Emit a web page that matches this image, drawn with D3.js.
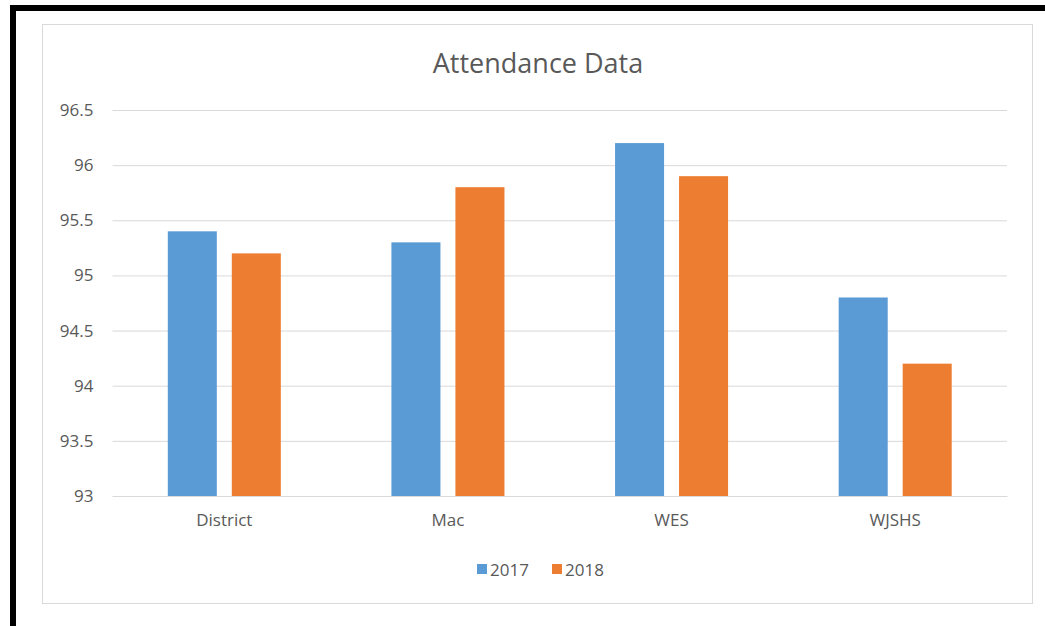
<!DOCTYPE html>
<html>
<head>
<meta charset="utf-8">
<script src="https://cdn.jsdelivr.net/npm/d3@7"></script>
<style>
  html, body { margin: 0; padding: 0; background: #fff; }
  svg { display: block; }
  text { font-family: "Open Sans", "Noto Sans", sans-serif; fill: #595959; }
</style>
</head>
<body>
<svg id="chart" width="1045" height="626"></svg>
<script>
// Attendance rates by school, two school years
const categories = ["District", "Mac", "WES", "WJSHS"];
const seriesNames = ["2017", "2018"];
const values2017 = [95.4, 95.3, 96.2, 94.8];
const values2018 = [95.2, 95.8, 95.9, 94.2];
const yTicks = [93, 93.5, 94, 94.5, 95, 95.5, 96, 96.5];
const yTickLabels = ["93", "93.5", "94", "94.5", "95", "95.5", "96", "96.5"];
const colors = ["#5B9BD5", "#ED7D31"];

const seriesValues = [values2017, values2018];

const svg = d3.select("#chart");
const W = 1045, H = 626;

// page frame: thick black edges on top and left
svg.append("rect").attr("x", 10).attr("y", 5).attr("width", W - 10).attr("height", 6).attr("fill", "#000");
svg.append("rect").attr("x", 10).attr("y", 5).attr("width", 6).attr("height", H - 5).attr("fill", "#000");

// chart area outline
svg.append("rect")
  .attr("x", 42.5).attr("y", 24.5)
  .attr("width", 990).attr("height", 579)
  .attr("fill", "#fff").attr("stroke", "#d9d9d9").attr("stroke-width", 1);

const margin = { left: 112.5, right: 1007, top: 110, bottom: 496 };

const x = d3.scaleBand()
  .domain(categories)
  .range([margin.left, margin.right])
  .paddingInner(0).paddingOuter(0);

const inner = d3.scaleBand()
  .domain(seriesNames)
  .range([0, x.bandwidth()])
  .paddingInner(0.234)
  .paddingOuter(0.864);

const y = d3.scaleLinear()
  .domain([93, 96.5])
  .range([margin.bottom, margin.top]);

// horizontal gridlines
const yAxis = d3.axisLeft(y)
  .tickValues(yTicks)
  .tickFormat((d, i) => yTickLabels[i])
  .tickSize(-(margin.right - margin.left))
  .tickPadding(19);

const gy = svg.append("g")
  .attr("transform", `translate(${margin.left},0)`)
  .call(yAxis);
gy.select(".domain").remove();
gy.selectAll(".tick line").attr("stroke", "#d9d9d9").attr("stroke-width", 1);
gy.selectAll(".tick text")
  .attr("font-size", 17)
  .style("font-family", '"Open Sans", "Noto Sans", sans-serif')
  .attr("fill", "#595959");

// bars
const groups = svg.append("g").selectAll("g")
  .data(categories)
  .join("g")
  .attr("transform", d => `translate(${x(d)},0)`);

groups.selectAll("rect")
  .data((d, i) => seriesNames.map((s, j) => ({ s, v: seriesValues[j][i], c: colors[j] })))
  .join("rect")
  .attr("x", d => inner(d.s))
  .attr("width", inner.bandwidth())
  .attr("y", d => y(d.v))
  .attr("height", d => y(93) - y(d.v))
  .attr("fill", d => d.c);

// category axis
const xAxis = d3.axisBottom(x).tickSize(0).tickPadding(18);
const gx = svg.append("g")
  .attr("transform", `translate(0,${margin.bottom})`)
  .call(xAxis);
gx.select(".domain").attr("stroke", "#d9d9d9");
gx.selectAll(".tick text")
  .attr("font-size", 17)
  .style("font-family", '"Open Sans", "Noto Sans", sans-serif')
  .attr("fill", "#595959");

// title
svg.append("text")
  .attr("x", 538).attr("y", 73)
  .attr("text-anchor", "middle")
  .attr("font-size", 27)
  .text("Attendance Data");

// legend
const legend = svg.append("g");
const legendX = [477, 552];
seriesNames.forEach((s, i) => {
  legend.append("rect")
    .attr("x", legendX[i]).attr("y", 564)
    .attr("width", 10).attr("height", 10)
    .attr("fill", colors[i]);
  legend.append("text")
    .attr("x", legendX[i] + 13).attr("y", 576)
    .attr("font-size", 17)
    .text(s);
});
</script>
</body>
</html>
